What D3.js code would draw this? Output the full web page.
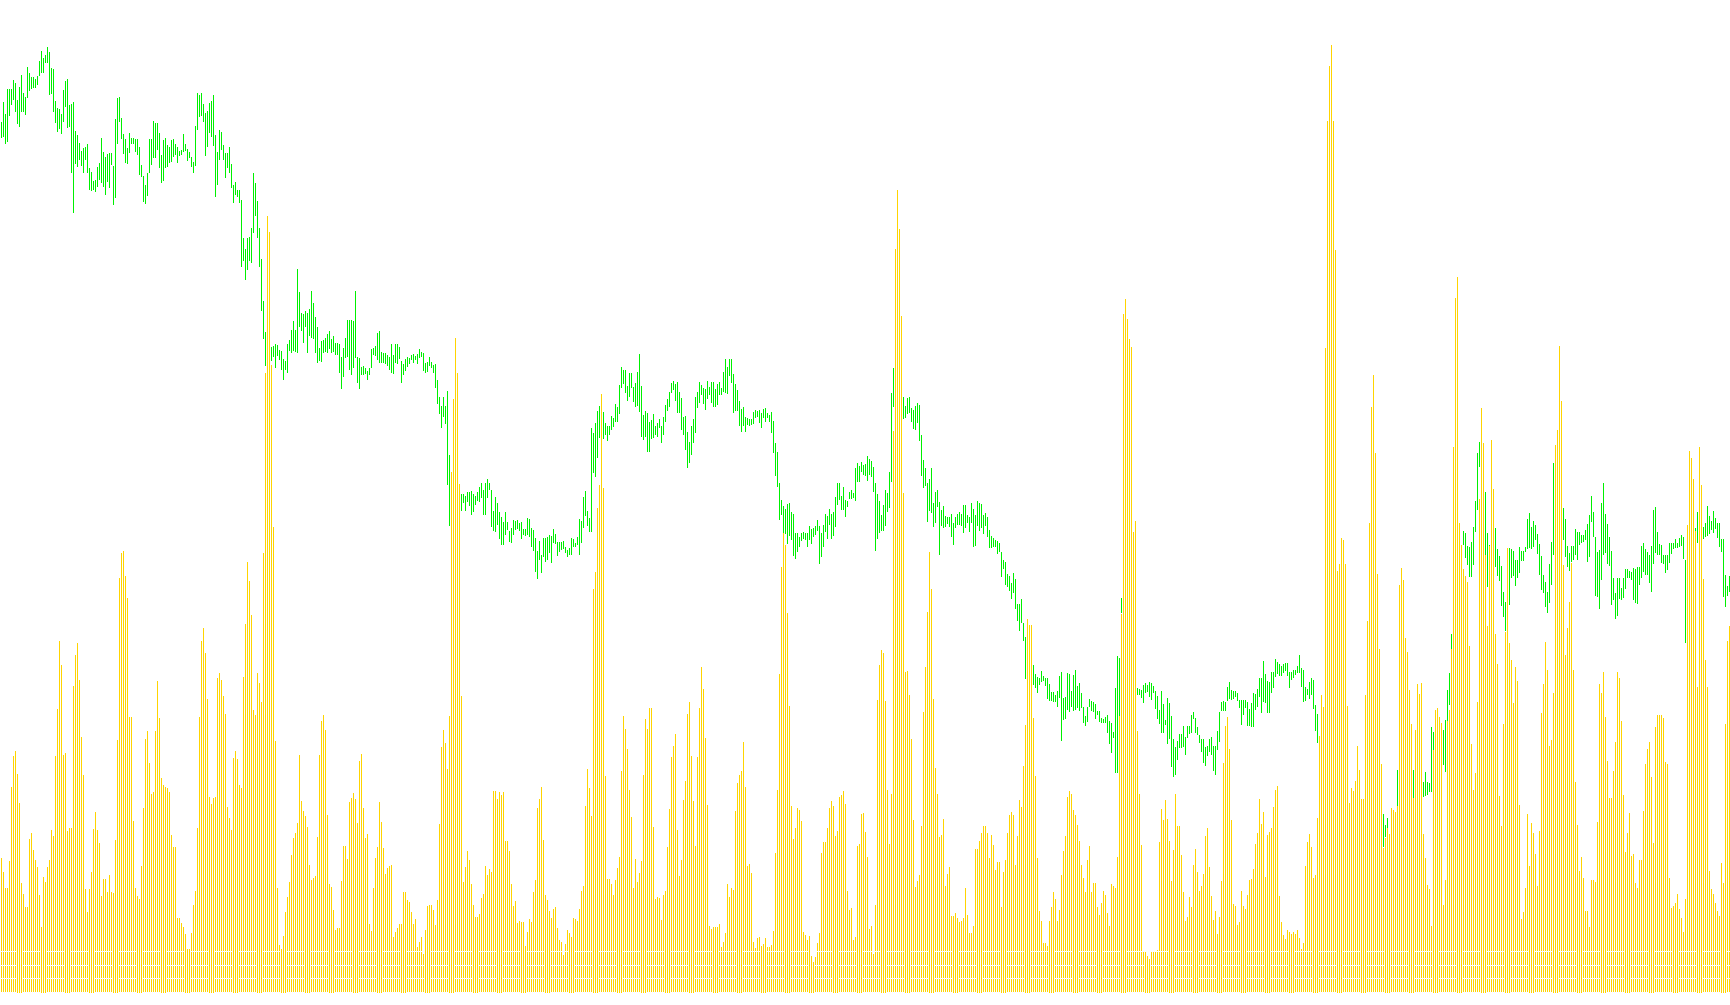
<!DOCTYPE html>
<html><head><meta charset="utf-8">
<script src="https://cdn.jsdelivr.net/npm/d3@7"></script>
<style>html,body{margin:0;padding:0;background:#fff;overflow:hidden}svg{display:block}</style>
</head><body>
<script>
// Bar highs (price units; scale 0..1000)
const high = [
878,898,886,911,911,911,920,917,900,913,
925,907,903,933,927,923,923,921,924,939,
949,942,945,953,948,932,931,899,892,891,
886,910,919,921,895,896,898,869,865,857,
849,852,853,856,832,828,819,820,833,837,
862,848,843,846,847,847,834,881,902,903,
882,866,861,852,867,862,862,861,861,853,
835,824,815,827,861,861,879,877,877,867,
845,860,862,855,853,860,861,856,853,849,
850,866,856,851,848,843,838,874,907,905,
907,896,887,889,897,899,905,865,848,870,
868,855,847,847,853,836,815,818,810,810,
800,762,751,762,763,772,827,817,799,772,
741,699,668,665,668,653,654,656,655,650,
649,641,639,656,660,670,679,670,731,708,
687,686,689,687,691,709,697,683,673,652,
659,660,662,666,669,661,664,657,657,656,
643,652,662,680,680,680,679,709,643,642,
633,634,632,629,632,651,652,654,667,669,
648,647,647,645,643,656,645,656,656,653,
639,636,641,643,642,645,646,644,646,651,
648,647,637,638,643,638,
635,636,620,603,594,603,594,609,545,520,
515,512,510,512,506,506,504,508,508,509,
506,504,508,513,517,510,517,521,517,510,
489,503,497,488,483,478,488,478,469,472,
480,479,480,477,478,471,471,482,481,472,
470,462,449,459,445,462,462,463,465,464,
471,466,458,458,458,459,453,450,452,462,
461,457,463,481,479,503,509,489,482,572,
567,577,589,594,592,588,577,574,574,584,
582,596,593,615,633,630,630,614,627,627,
613,617,628,646,614,585,589,587,578,580,
586,574,577,581,574,583,595,601,608,617,
619,616,618,608,602,583,584,568,558,574,
581,603,608,618,615,612,611,619,613,618,
618,611,616,618,612,628,641,633,641,641,
626,616,610,599,591,593,583,582,581,581,
588,590,589,590,587,591,592,587,585,588,
579,557,548,517,500,494,491,496,497,488,
486,467,467,463,467,468,467,467,474,471,
472,474,480,474,467,475,486,484,491,486,
488,503,517,517,504,513,500,499,508,510,
507,532,537,534,538,535,
536,544,541,539,533,517,506,499,485,495,
510,507,528,607,632,625,615,610,605,603,
594,602,603,592,590,594,597,595,565,540,
532,517,521,532,497,508,510,498,490,494,
484,483,483,486,477,483,486,488,486,495,
495,485,483,497,491,485,499,497,496,485,
487,483,470,464,462,460,459,457,448,440,
438,426,424,417,427,421,396,396,401,377,
363,354,350,345,335,326,323,322,329,324,
322,322,316,308,308,305,309,324,328,302,
303,327,326,309,325,330,314,317,307,293,
284,293,301,299,298,296,289,289,282,281,
283,285,279,277,268,312,344,342,402,390,
385,380,375,370,365,360,312,311,310,315,
317,315,318,317,314,309,304,290,309,296,
280,302,297,284,261,253,259,266,266,274,
263,274,274,285,288,282,273,265,261,261,
253,254,261,263,254,254,269,288,298,299,
298,313,318,310,309,309,307,300,300,300,
300,298,291,297,307,306,311,322,322,339,
326,319,318,328,328,341,338,336,334,336,
337,337,328,328,330,330,
334,345,332,330,313,311,318,322,320,295,
286,264,258,255,250,246,243,240,236,232,
228,224,220,215,212,208,185,190,188,195,
200,198,192,190,195,198,200,200,198,195,
192,195,200,186,175,182,162,178,182,185,
230,225,222,220,224,226,228,226,230,228,
225,222,220,218,228,218,217,273,268,265,
262,260,265,270,280,310,327,366,400,420,
440,460,452,469,467,454,453,458,473,499,
547,558,545,535,508,467,455,465,470,472,
451,444,434,408,398,440,452,451,449,440,
440,453,449,449,453,481,487,473,479,475,
466,456,444,425,418,408,436,458,537,520,
515,505,500,492,481,454,447,454,454,471,
468,468,465,465,470,476,485,504,488,463,
448,450,497,517,486,476,463,449,422,407,
422,422,412,422,431,431,429,428,432,431,
433,433,454,457,451,448,445,454,490,493,
468,456,455,445,445,445,457,457,457,461,
457,462,465,463,440,470,468,465,466,472,
488,485,480,473,477,494,484,479,489,482,
477,477,461,461,425,414,424
];
// Bar lows
const low = [
862,863,856,858,884,895,900,888,876,873,
888,888,885,902,909,911,912,912,915,924,
927,927,937,937,905,906,888,877,868,871,
866,878,893,872,873,827,787,836,833,840,
834,827,840,827,810,809,810,808,813,820,
817,813,805,818,812,835,795,802,856,878,
861,846,837,836,847,856,856,848,845,825,
823,798,796,804,827,835,842,842,850,832,
817,819,832,833,837,838,843,845,837,844,
845,848,849,839,842,833,827,834,870,883,
884,878,844,853,867,863,854,803,815,840,
850,840,822,832,827,812,797,805,803,797,
733,739,720,730,739,737,767,784,762,733,
689,661,634,640,650,639,643,632,644,640,
630,620,630,627,649,647,649,648,647,673,
669,657,673,647,664,662,661,647,637,639,
638,647,648,647,651,647,648,645,645,627,
611,623,642,643,630,625,632,642,617,611,
625,625,626,620,625,632,645,644,640,637,
637,637,636,634,630,627,626,637,636,641,
617,625,629,633,636,640,637,640,636,642,
643,629,627,628,634,632,
627,612,596,586,572,583,576,515,474,495,
492,490,493,495,489,497,489,498,494,485,
488,495,499,498,502,485,485,502,510,473,
469,468,475,461,455,455,465,470,458,457,
465,470,471,469,461,465,464,465,463,453,
449,428,421,440,427,443,438,440,447,437,
457,456,444,448,450,451,447,443,445,445,
453,453,455,445,457,472,484,474,468,468,
527,523,542,562,565,561,565,559,565,570,
573,578,578,586,612,616,607,599,603,612,
598,593,594,588,563,560,563,548,548,561,
562,565,563,572,557,565,578,589,593,607,
610,599,587,587,570,565,550,532,537,545,
557,567,592,597,605,596,590,601,605,597,
593,593,595,605,605,608,607,606,624,617,
587,589,589,574,568,574,568,575,574,575,
576,582,583,577,572,582,578,582,578,567,
547,524,513,480,485,466,466,456,464,460,
444,441,448,453,459,461,460,453,460,456,
463,465,469,436,443,453,468,461,475,461,
464,473,495,500,490,490,483,493,501,501,
502,499,518,518,528,525,
524,519,525,523,508,449,461,467,469,469,
474,488,492,518,593,590,588,585,582,581,
582,586,587,578,571,570,577,559,524,512,
514,478,489,487,473,477,493,445,474,472,
473,476,473,463,455,472,475,475,474,467,
472,477,468,477,453,454,474,469,472,466,
474,463,452,452,453,453,446,448,423,431,
415,413,409,401,407,391,379,369,377,359,
321,331,325,318,315,312,307,315,318,319,
314,301,299,299,298,298,293,302,259,280,
281,290,288,293,289,290,292,289,292,277,
274,278,293,289,288,281,285,278,277,277,
277,267,256,247,262,227,227,250,387,360,
355,350,348,345,340,335,305,305,302,297,
307,308,303,300,307,291,281,276,267,267,
275,256,261,233,223,225,240,252,252,253,
245,262,266,267,281,267,265,257,248,237,
234,244,248,245,229,225,250,258,289,289,
289,299,301,300,301,303,299,292,275,285,
292,274,274,273,273,290,293,303,287,298,
297,287,287,307,312,323,326,324,324,327,
329,324,312,320,322,325,
327,327,313,298,299,305,301,305,291,269,
257,248,242,238,232,228,222,220,214,210,
205,202,198,195,192,188,165,170,168,172,
175,176,172,168,170,172,175,176,172,170,
168,170,172,153,163,170,148,160,165,168,
193,200,198,196,200,202,204,203,201,205,
203,200,200,203,204,205,208,208,240,238,
236,235,240,235,228,266,295,350,360,380,
400,430,432,455,442,435,423,423,435,468,
490,533,515,500,413,413,453,440,440,433,
424,419,394,383,369,395,395,422,424,414,
422,427,439,439,448,451,452,451,453,460,
446,425,410,407,393,387,397,415,445,470,
468,462,460,460,443,433,429,438,440,445,
440,455,457,458,460,438,443,478,463,404,
403,391,420,445,447,436,434,395,400,381,
384,401,400,402,411,422,422,420,400,397,
396,415,422,428,425,425,417,408,436,447,
445,445,437,436,427,430,437,446,451,452,
452,453,454,441,357,445,442,440,445,455,
457,460,458,461,463,464,466,470,467,471,
462,453,448,403,393,404,408
];
// Volume per bar
const volume = [
135,121,105,105,132,206,237,242,219,190,
110,99,86,86,154,160,143,133,126,98,
66,116,111,126,133,163,157,237,284,352,
328,238,240,162,165,165,307,338,350,313,
256,218,104,81,104,121,164,181,163,150,
97,114,114,101,118,101,100,153,253,415,
440,442,417,395,276,276,172,105,97,94,
127,185,254,262,230,199,201,262,312,275,
215,208,206,205,201,158,146,146,75,75,
70,66,59,44,44,60,88,102,165,276,
352,365,340,294,196,189,195,196,315,320,
313,297,279,186,175,163,235,242,234,208,
205,316,369,431,412,378,283,278,320,310,
291,440,620,777,761,628,466,252,105,48,
44,57,81,96,111,138,155,160,170,238,
192,182,177,166,128,113,115,117,156,238,
272,278,263,178,109,106,83,63,65,65,
112,147,147,134,191,195,200,194,170,232,
239,185,155,159,69,62,105,135,146,191,
171,145,119,125,127,128,56,61,65,69,
69,101,101,93,91,81,69,74,46,51,
56,39,63,87,88,88,
83,68,93,169,246,263,250,224,277,521,
594,655,620,509,297,111,126,142,133,109,
88,76,76,79,95,99,127,118,124,121,
202,202,194,201,198,201,152,152,142,109,
87,92,70,72,71,71,47,61,74,71,
101,113,185,194,206,153,98,93,82,75,
84,86,65,53,51,38,49,63,60,56,
75,74,72,84,102,107,187,224,205,177,
404,421,485,508,599,505,217,114,114,109,
98,113,125,136,222,277,264,244,203,176,
105,134,111,120,132,218,274,264,285,285,
166,94,96,95,73,98,102,146,184,236,
247,259,163,117,133,193,212,279,291,237,
192,147,236,285,326,304,255,188,67,64,
66,66,66,69,46,51,60,109,96,105,
103,182,210,218,222,251,206,127,129,120,
51,45,55,56,47,49,55,46,46,48,
62,140,203,319,426,460,448,380,287,187,
154,165,185,183,172,61,58,53,57,37,
31,36,50,60,140,151,151,165,185,192,
187,157,162,196,198,202,189,102,83,85,
53,56,147,149,179,180,
161,136,64,67,39,88,293,328,343,340,
292,203,149,199,562,744,803,764,677,500,
321,322,298,254,173,106,112,118,167,281,
326,381,441,404,294,225,199,156,158,174,
107,119,126,77,77,80,75,71,72,75,
105,78,60,60,67,144,144,152,160,167,
167,160,135,158,148,123,131,131,86,121,
133,160,178,181,178,128,157,193,186,227,
268,374,368,368,275,217,135,82,72,50,
50,47,72,86,101,94,72,83,118,142,
157,196,202,199,183,178,168,152,128,115,
101,133,147,101,110,110,86,78,90,102,
98,80,67,109,107,105,136,277,379,679,
694,674,654,646,461,472,262,199,148,41,
41,37,34,41,41,42,43,151,184,173,
193,174,152,112,143,199,167,167,138,101,
72,76,96,86,128,144,121,102,107,119,
157,165,126,97,73,82,59,76,112,230,
267,276,244,173,89,87,68,71,102,87,
84,98,113,114,124,149,160,194,169,181,
116,158,161,165,186,203,207,97,71,58,
54,63,61,59,61,59,
63,55,44,50,127,151,159,146,115,118,
175,257,298,286,645,872,927,948,872,743,
422,429,455,453,429,287,190,205,202,212,
247,223,194,194,298,372,470,586,618,540,
419,344,229,145,155,165,159,185,183,181,
187,408,425,413,355,341,303,269,195,263,
309,299,310,159,135,108,104,67,243,283,
285,276,270,88,113,272,283,344,546,695,
716,470,448,424,417,411,347,249,203,220,
291,494,585,550,438,367,447,553,504,359,
329,197,167,269,361,445,350,333,290,326,
312,188,74,81,105,179,127,170,160,139,
107,162,280,309,351,323,247,253,300,548,
563,647,592,428,338,365,391,430,323,211,
168,122,136,115,82,82,66,113,113,111,
171,309,300,321,276,232,195,195,222,251,
321,315,272,198,141,160,180,137,139,110,
105,133,133,182,229,244,251,216,150,266,
278,278,278,275,231,229,115,85,87,90,
99,84,75,61,94,468,542,535,514,462,
306,546,508,414,333,306,122,104,99,90,
82,77,130,110,269,352,367
];
// White dashed guide levels in the volume pane (volume units)
const volGrid = [0.5, 14.5, 27.5, 41.5];

const W = 1730, H = 1005;
const N = volume.length;
if (high.length !== N || low.length !== N) {
  throw new Error("length mismatch high=" + high.length + " low=" + low.length + " vol=" + N);
}

const svg = d3.select("body").append("svg").attr("width", W).attr("height", H);
svg.append("rect").attr("width", W).attr("height", H).attr("fill", "#ffffff");

const x = d3.scaleLinear().domain([0, N]).range([1, 1 + 2 * N]);
const yP = d3.scaleLinear().domain([0, 1000]).range([1000, 0]);
const yV = d3.scaleLinear().domain([0, 950]).range([993, 43]);
const idx = d3.range(N);

svg.append("g").attr("shape-rendering", "crispEdges")
  .selectAll("rect").data(idx).join("rect")
  .attr("x", i => x(i)).attr("width", 1)
  .attr("y", i => yP(high[i]))
  .attr("height", i => Math.max(1, yP(low[i]) - yP(high[i])))
  .attr("fill", "#00f000");

svg.append("g").attr("shape-rendering", "crispEdges")
  .selectAll("rect").data(idx).join("rect")
  .attr("x", i => x(i)).attr("width", 1)
  .attr("y", i => yV(volume[i]))
  .attr("height", i => yV(0) - yV(volume[i]))
  .attr("fill", "#ffd400");

svg.append("g").attr("shape-rendering", "crispEdges")
  .selectAll("line").data(volGrid).join("line")
  .attr("x1", 0).attr("x2", W)
  .attr("y1", d => yV(d)).attr("y2", d => yV(d))
  .attr("stroke", "#ffffff").attr("stroke-width", 1)
  .attr("stroke-dasharray", "17 7").attr("stroke-dashoffset", 1);
</script>
</body></html>
